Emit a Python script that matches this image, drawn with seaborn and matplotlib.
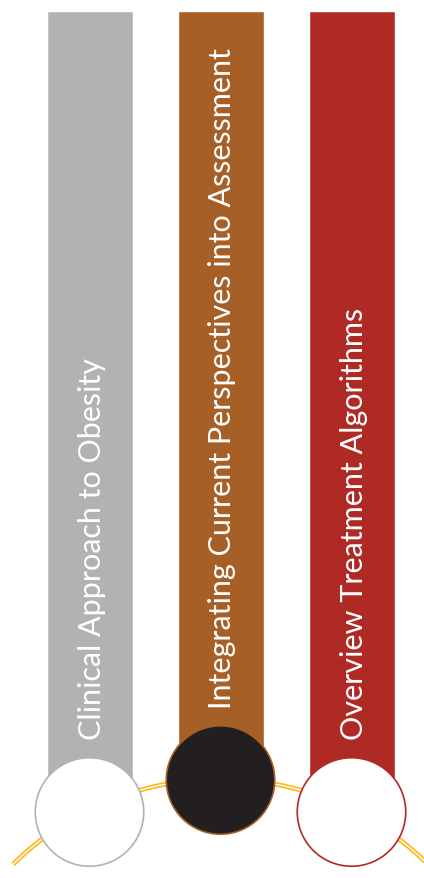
import numpy as np
import pandas as pd
import seaborn as sns
import matplotlib.pyplot as plt

sns.set_style("white")
plt.rcParams['font.family'] = ['Lato', 'DejaVu Sans']

# 数据 (纵向单位: 圆圈基线以上的像素)
topics = ["Clinical Approach to Obesity",
          "Integrating Current Perspectives into Assessment",
          "Overview Treatment Algorithms"]
bar_lengths = [801, 801, 801]
circle_levels = [0, 32, 0]
label_starts = [73, 104, 73]
bar_colors = ["#B1B2B4", "#A65F27", "#AF2A25"]
circle_faces = ["white", "#231F20", "white"]
circle_edges = ["#B1B2B4", "#A65F27", "#AF2A25"]

# 画布
W, H, DPI = 424, 879, 100
step = 131     # 列间距 (px)
x0 = 89.5      # 第一列中心 (px)
base = 813     # 圆圈基线 (px)

fig = plt.figure(figsize=(W / DPI, H / DPI), dpi=DPI)
ax = fig.add_axes([0, 0, 1, 1])

# 竖条
df = pd.DataFrame({"topic": topics, "length": bar_lengths})
sns.barplot(data=df, x="topic", y="length", hue="topic", palette=bar_colors,
            width=86 / step, saturation=1, errorbar=None, legend=False,
            ax=ax, zorder=1)

# 金色双线弧
t = np.radians(np.linspace(-44.7, 52, 300))
arc_x = (220.5 + 295 * np.sin(t) - x0) / step
arc_y = base - (1075 - 295 * np.cos(t))
ax.plot(arc_x, arc_y, color="#FBB917", lw=3.4, solid_capstyle="butt", zorder=2)
ax.plot(arc_x, arc_y, color="white", lw=1.0, solid_capstyle="butt", zorder=2.1)

# 圆圈
ax.scatter(range(len(topics)), circle_levels, s=(108.5 * 0.72) ** 2,
           c=circle_faces, edgecolors=circle_edges, linewidths=1.2, zorder=3)

# 竖排文字
for i, (topic, start) in enumerate(zip(topics, label_starts)):
    ax.text(i + 11 / step, start, topic, rotation=90, rotation_mode="anchor",
            ha="left", va="baseline", color="white", fontsize=22, zorder=4)

ax.set_xlim(-x0 / step, (W - x0) / step)
ax.set_ylim(base - H, base)
ax.axis("off")

fig.savefig("out.png", dpi=DPI)
plt.close(fig)
